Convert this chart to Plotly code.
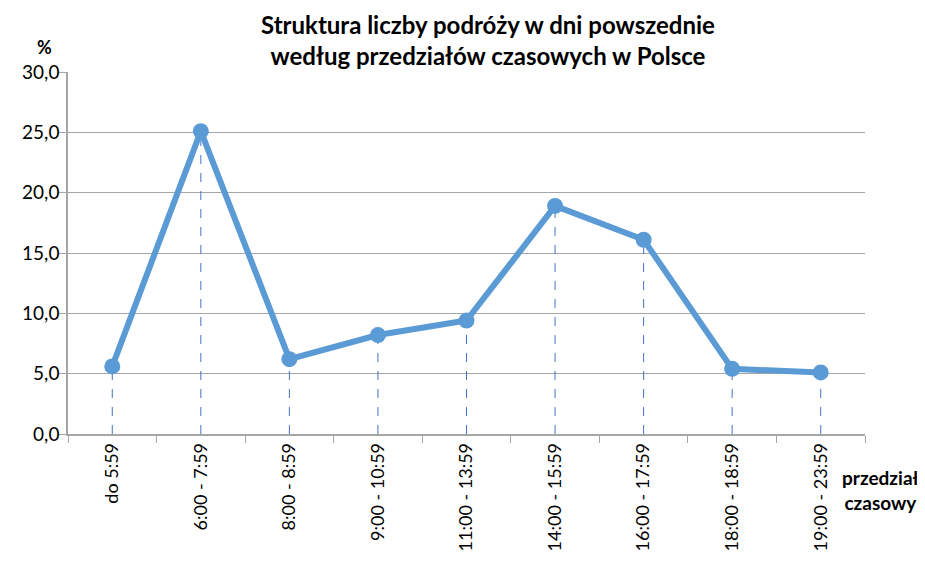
import plotly.graph_objects as go

categories = ["do 5:59", "6:00 - 7:59", "8:00 - 8:59", "9:00 - 10:59", "11:00 - 13:59",
              "14:00 - 15:59", "16:00 - 17:59", "18:00 - 18:59", "19:00 - 23:59"]
values = [5.6, 25.1, 6.2, 8.2, 9.4, 18.9, 16.1, 5.4, 5.1]
y_ticks = [0, 5, 10, 15, 20, 25, 30]

FONT = "Lato, Carlito, Calibri, sans-serif"

drop_x, drop_y = [], []
for c, v in zip(categories, values):
    drop_x += [c, c, None]
    drop_y += [0, v, None]

fig = go.Figure()
fig.add_trace(go.Scatter(x=drop_x, y=drop_y, mode="lines",
                         line=dict(color="#4472C4", width=1, dash="dash"),
                         hoverinfo="skip", showlegend=False))
fig.add_trace(go.Scatter(x=categories, y=values, mode="lines+markers",
                         line=dict(color="#5B9BD5", width=6),
                         marker=dict(color="#5B9BD5", size=16),
                         showlegend=False))

fig.update_layout(
    width=917, height=555,
    margin=dict(l=60, r=60, t=64, b=129),
    paper_bgcolor="white", plot_bgcolor="white",
    separators=", ",
    font=dict(family=FONT, color="black", size=18),
)
fig.update_xaxes(type="category", categoryorder="array", categoryarray=categories,
                 range=[-0.5, 8.5], showgrid=False, showline=True, linecolor="#A6A6A6",
                 linewidth=1.5, ticks="outside", tickson="boundaries", ticklen=7,
                 tickcolor="#A6A6A6", tickangle=-90, tickfont=dict(size=18),
                 automargin=False)
fig.update_yaxes(range=[0, 30], tickvals=y_ticks, tickformat=".1f", showgrid=True,
                 gridcolor="#A6A6A6", gridwidth=1.2, showline=True, linecolor="#A6A6A6",
                 linewidth=1.5, ticks="outside", ticklen=7, tickcolor="#A6A6A6",
                 zeroline=False, tickfont=dict(size=19), automargin=False,
                 ticklabelstandoff=-4)

fig.add_annotation(text="<b>Struktura liczby podróży w dni powszednie<br>według przedziałów czasowych w Polsce</b>",
                   xref="paper", yref="paper", x=0.527, y=1.0, xanchor="center",
                   yanchor="bottom", yshift=1, borderpad=0, showarrow=False, align="center",
                   font=dict(family=FONT, size=24, color="black"))
fig.add_annotation(text="<b>%</b>", xref="paper", yref="paper", x=-0.03, y=1.0,
                   xanchor="center", yanchor="bottom", showarrow=False, yshift=12,
                   font=dict(size=18))
fig.add_annotation(text="<b>przedział<br>czasowy</b>", xref="paper", yref="paper",
                   x=1.0, y=0, xanchor="left", yanchor="top", showarrow=False,
                   xshift=-25, yshift=-30, align="center", font=dict(size=19))

fig.write_html("out.html")
